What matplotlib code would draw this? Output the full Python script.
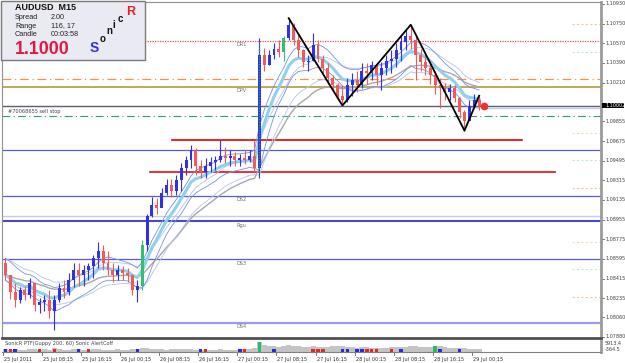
import numpy as np
import pandas as pd
import matplotlib
matplotlib.use("Agg")
import matplotlib.pyplot as plt
import matplotlib.transforms as mtransforms
from matplotlib.patches import Rectangle

# ---------------- data (H1 aggregation of the M15 chart) ----------------
open0 = 1.0856
high = [1.0860, 1.0845, 1.0837, 1.0834, 1.0835, 1.0842, 1.0835, 1.0824, 1.0826, 1.0831,
        1.0826, 1.0837, 1.0840, 1.0847, 1.0856, 1.0856, 1.0854, 1.0856, 1.0863, 1.0875,
        1.0872, 1.0867, 1.0856, 1.0854, 1.0853, 1.0851, 1.0846, 1.0840, 1.0877, 1.0901,
        1.0916, 1.0915, 1.0924, 1.0933, 1.0933, 1.0936, 1.0947, 1.0954, 1.0964, 1.0961,
        1.0950, 1.0952, 1.0953, 1.0954, 1.0968, 1.0962, 1.0959, 1.0957, 1.0956, 1.0959,
        1.0959, 1.0968, 1.1062, 1.1053, 1.1051, 1.1057, 1.1060, 1.1064, 1.1080, 1.1076,
        1.1066, 1.1052, 1.1046, 1.1066, 1.1060, 1.1046, 1.1039, 1.1028, 1.1021, 1.1019,
        1.1025, 1.1030, 1.1032, 1.1039, 1.1039, 1.1041, 1.1039, 1.1040, 1.1046, 1.1051,
        1.1057, 1.1064, 1.1069, 1.1074, 1.1064, 1.1052, 1.1049, 1.1041, 1.1032, 1.1025,
        1.1021, 1.1020, 1.1019, 1.1008, 1.0996, 1.1005, 1.1011, 1.1009]
low = [1.0840, 1.0823, 1.0815, 1.0819, 1.0822, 1.0824, 1.0812, 1.0810, 1.0812, 1.0805,
       1.0794, 1.0820, 1.0824, 1.0826, 1.0834, 1.0835, 1.0835, 1.0840, 1.0842, 1.0851,
       1.0849, 1.0845, 1.0838, 1.0840, 1.0840, 1.0838, 1.0826, 1.0820, 1.0831, 1.0867,
       1.0898, 1.0901, 1.0910, 1.0918, 1.0916, 1.0918, 1.0922, 1.0936, 1.0943, 1.0936,
       1.0934, 1.0934, 1.0939, 1.0941, 1.0948, 1.0947, 1.0945, 1.0945, 1.0945, 1.0946,
       1.0948, 1.0939, 1.0934, 1.1032, 1.1037, 1.1043, 1.1044, 1.1041, 1.1060, 1.1055,
       1.1044, 1.1035, 1.1032, 1.1041, 1.1040, 1.1030, 1.1020, 1.1014, 1.1005, 1.1000,
       1.1003, 1.1009, 1.1012, 1.1016, 1.1020, 1.1023, 1.1019, 1.1014, 1.1028, 1.1030,
       1.1035, 1.1041, 1.1051, 1.1052, 1.1023, 1.1032, 1.1028, 1.1020, 1.1011, 1.0998,
       1.1005, 1.1005, 1.1003, 1.0989, 1.0977, 1.0988, 1.0998, 1.0996]
close = [1.0845, 1.0829, 1.0822, 1.0831, 1.0826, 1.0837, 1.0817, 1.0820, 1.0822, 1.0812,
         1.0822, 1.0833, 1.0829, 1.0840, 1.0849, 1.0845, 1.0849, 1.0853, 1.0860, 1.0867,
         1.0856, 1.0849, 1.0845, 1.0849, 1.0847, 1.0845, 1.0831, 1.0835, 1.0872, 1.0899,
         1.0909, 1.0906, 1.0920, 1.0927, 1.0922, 1.0932, 1.0943, 1.0950, 1.0959, 1.0945,
         1.0939, 1.0945, 1.0948, 1.0950, 1.0954, 1.0952, 1.0954, 1.0950, 1.0952, 1.0950,
         1.0954, 1.0943, 1.1046, 1.1037, 1.1046, 1.1052, 1.1049, 1.1062, 1.1074, 1.1060,
         1.1051, 1.1040, 1.1041, 1.1055, 1.1043, 1.1034, 1.1025, 1.1019, 1.1009, 1.1005,
         1.1019, 1.1023, 1.1019, 1.1032, 1.1030, 1.1037, 1.1028, 1.1034, 1.1041, 1.1043,
         1.1051, 1.1058, 1.1064, 1.1060, 1.1046, 1.1040, 1.1034, 1.1028, 1.1019, 1.1016,
         1.1012, 1.1016, 1.1007, 1.0994, 1.0986, 1.1000, 1.1005, 1.1000]
green_candles = [28, 57]

vol = [3, 2, 3, 2, 2, 3, 3, 2, 3, 2, 4, 3, 2, 2, 3, 3, 2, 2, 3, 3,
       2, 2, 2, 3, 2, 2, 3, 3, 4, 4, 3, 3, 3, 2, 3, 3, 3, 3, 3, 2,
       2, 2, 2, 2, 3, 2, 2, 2, 2, 3, 3, 4, 10, 7, 6, 6, 5, 6, 7, 6,
       6, 5, 5, 6, 5, 5, 5, 6, 6, 6, 5, 5, 4, 5, 5, 4, 4, 4, 4, 5,
       5, 5, 5, 6, 6, 5, 5, 5, 6, 6, 5, 4, 4, 4, 4, 3, 3, 3]
sig_idx = [0, 1, 2, 7, 10, 15, 17, 27, 40, 41, 48, 49, 52, 55, 63, 64, 65, 69, 70,
           72, 73, 74, 75, 76, 79, 81, 88, 89, 93]
sig_dir = [1, -1, 1, -1, -1, 1, -1, 1, 1, -1, 1, -1, 2, 1, -1, -1, -1, 1, 1,
           1, 1, -1, -1, -1, -1, 1, 2, 1, 1]

zigzag_idx = [58, 69, 83, 94, 97]
zigzag_kind = ["H", "L", "H", "L", "H"]

date_labels = ["25 Jul 2011", "25 Jul 08:15", "25 Jul 16:15", "26 Jul 00:15",
               "26 Jul 08:15", "26 Jul 16:15", "27 Jul 00:15", "27 Jul 08:15",
               "27 Jul 16:15", "28 Jul 00:15", "28 Jul 08:15", "28 Jul 16:15",
               "29 Jul 00:15"]
price_labels = ["1.10930", "1.10750", "1.10570", "1.10390", "1.10210", "1.09855",
                "1.09675", "1.09495", "1.09315", "1.09135", "1.08955", "1.08775",
                "1.08595", "1.08415", "1.08235", "1.08060", "1.07880"]

bid = 1.1000
bid_text = "1.10002"
sell_stop = 1.0990
pivot_names = ["DR1", "DPV", "DS2", "Rgu", "DS3", "DS4"]
pivot_values = [1.1059, 1.1017, 1.0917, 1.0894, 1.0859, 1.0801]
orange_level = 1.1024
blue_level = 1.0959
lav_level = 1.0899
red_levels = [1.0968, 1.0939]
right_levels = [1.1075, 1.1049, 1.0975, 1.0950, 1.0924, 1.0875, 1.0850, 1.0825]
right_colors = ["#f5c890", "#b8ecd8", "#f0dcb0", "#b8ecd8", "#f5c890", "#f0dcb0", "#b8ecd8", "#f5c890"]

# ---------------- figure ----------------
W, H = 625, 363
fig = plt.figure(figsize=(W / 100, H / 100), dpi=100)
fig.patch.set_facecolor("white")


def fx(px):
    return px / W


def fy(py):
    return 1 - py / H


ax = fig.add_axes([fx(2), fy(338), (601 - 2) / W, (338 - 2) / H])
axv = fig.add_axes([fx(2), fy(352), (601 - 2) / W, (352 - 341) / H])

n = len(close)
idx = np.arange(n)
opens = np.array([open0] + close[:-1])
hi = np.array(high)
lo = np.array(low)
cl = np.array(close)

X0, X1 = -0.7, 121.95
ax.set_xlim(X0, X1)
ax.set_ylim(1.078705, 1.109483)

# horizontal levels
ax.axhline(pivot_values[0], color="#e05050", lw=0.9, ls=(0, (1, 1)))
ax.axhline(orange_level, color="#ff8a50", lw=0.9, ls=(0, (7, 3, 1, 3)))
ax.axhline(pivot_values[1], color="#c0a855", lw=1.4)
ax.axhline(bid, color="#5a6070", lw=1.0)
ax.plot([98, X1], [bid - 0.0002, bid - 0.0002], color="#c8c8f0", lw=1.0)
ax.axhline(sell_stop, color="#30a060", lw=0.8, ls=(0, (7, 3, 1, 3)))
ax.plot([34.1, 105.8], [red_levels[0]] * 2, color="#e00000", lw=1.2)
ax.axhline(blue_level, color="#5a5ad8", lw=0.9)
ax.plot([29.6, 112.5], [red_levels[1]] * 2, color="#e01010", lw=1.2)
ax.axhline(pivot_values[2], color="#5a5ad8", lw=0.9)
ax.axhline(lav_level, color="#c8c8f4", lw=1.0)
ax.axhline(pivot_values[3], color="#4848c8", lw=1.5)
ax.axhline(pivot_values[4], color="#5a5ad8", lw=0.9)
ax.axhline(pivot_values[5], color="#9a9af0", lw=1.6)
for lv, c in zip(right_levels, right_colors):
    ax.plot([116, X1], [lv, lv], color=c, lw=0.8, ls=(0, (2, 2)))

# pivot labels
for name, v in zip(pivot_names, pivot_values):
    ax.text(47.4, v - 0.00012, name, fontsize=3.6, color="#707070", va="top", ha="left")
ax.text(0.5, sell_stop + 0.0002, "#70068655 sell stop", fontsize=3.6, color="#404040",
        va="bottom", ha="left")

# moving averages (Sonic R dragon + trend)
s_close = pd.Series(cl)
ema_c = s_close.ewm(span=8.5, adjust=False).mean()
ema_h = pd.Series(hi).ewm(span=8.5, adjust=False).mean()
ema_l = pd.Series(lo).ewm(span=8.5, adjust=False).mean()
ema_h2 = pd.Series(hi).ewm(span=14, adjust=False).mean()
ema_l2 = pd.Series(lo).ewm(span=14, adjust=False).mean()
ema_t = s_close.ewm(span=22, adjust=False).mean()
ax.plot(idx, ema_t, color="#a8a8a8", lw=1.0, zorder=3)
ax.plot(idx, ema_h2, color="#b4c4ee", lw=0.6, zorder=3)
ax.plot(idx, ema_l2, color="#b4c4ee", lw=0.6, zorder=3)
ax.plot(idx, ema_h, color="#7890e0", lw=0.6, zorder=3)
ax.plot(idx, ema_l, color="#7890e0", lw=0.6, zorder=3)
ax.plot(idx, ema_c, color="#8ed0ee", lw=2.2, zorder=3)

# candles
for i in range(n):
    o, c = opens[i], cl[i]
    if i in green_candles:
        col = "#30c070"
    elif c >= o:
        col = "#3030e6"
    else:
        col = "#f05a5a"
    ax.plot([i, i], [lo[i], hi[i]], color=col, lw=0.8, zorder=4, solid_capstyle="butt")
    b = min(o, c)
    h = max(abs(c - o), 0.00004)
    ax.add_patch(Rectangle((i - 0.3, b), 0.6, h, facecolor=col, edgecolor="none", zorder=4))

# green dotted vertical at the breakout candle
ax.plot([52, 52], [red_levels[1], pivot_values[0]], color="#20b060", lw=0.9,
        ls=(0, (1, 1.2)), zorder=5)

# zigzag
zz_y = [hi[i] if k == "H" else lo[i] for i, k in zip(zigzag_idx, zigzag_kind)]
ax.plot(zigzag_idx, zz_y, color="black", lw=1.3, zorder=6)

# current price marker
ax.plot([98], [bid], marker="o", ms=4.5, color="#f03030", zorder=7)

# axes styling main
for sp in ["left", "top"]:
    ax.spines[sp].set_color("#909090")
    ax.spines[sp].set_linewidth(0.8)
ax.spines["right"].set_color("#9a9a9a")
ax.spines["right"].set_linewidth(2.0)
ax.spines["bottom"].set_color("#505050")
ax.spines["bottom"].set_linewidth(2.0)
ax.set_xticks([])
ax.set_yticks([])

# right price labels and ticks
tr = mtransforms.blended_transform_factory(ax.transAxes, ax.transData)
for lab in price_labels:
    v = float(lab)
    ax.plot([1.0, 1.005], [v, v], color="#606060", lw=0.6, transform=tr, clip_on=False)
    ax.text(1.0067, v, lab, transform=tr, fontsize=3.5, color="#404040",
            va="center", ha="left", clip_on=False)
ax.add_patch(Rectangle((1.0017, bid - 0.00027), 0.037, 0.00054, transform=tr,
                       facecolor="black", edgecolor="none", clip_on=False, zorder=8))
ax.text(1.0067, bid, bid_text, transform=tr, fontsize=3.5, color="white",
        va="center", ha="left", clip_on=False, zorder=9)

# ---------------- volume pane ----------------
axv.set_xlim(X0, X1)
axv.set_ylim(0, 11)
axv.bar(idx, vol, width=1.0, color="#c4c4c4", edgecolor="none")
for i, d in zip(sig_idx, sig_dir):
    col = {1: "#2828e0", -1: "#e02828", 2: "#20c060"}[d]
    hgt = vol[i] if d == 2 else 3
    axv.bar([i], [hgt], width=0.7, color=col, edgecolor="none")
axv.set_xticks([])
axv.set_yticks([])
for sp in ["left", "top"]:
    axv.spines[sp].set_visible(False)
axv.spines["bottom"].set_color("#808080")
axv.spines["bottom"].set_linewidth(0.8)
axv.spines["right"].set_color("#9a9a9a")
axv.spines["right"].set_linewidth(2.0)
axv.text(0.005, 0.75, "SonicR PTF(Guppy 200, 60) Sonic AlertCoff", transform=axv.transAxes,
         fontsize=3.6, color="#404040", va="center", ha="left")
axv.text(1.0067, 0.75, "5913.4", transform=axv.transAxes, fontsize=3.5, color="#404040",
         va="center", ha="left", clip_on=False)
axv.text(1.0067, 0.2, "-364.5", transform=axv.transAxes, fontsize=3.5, color="#404040",
         va="center", ha="left", clip_on=False)

# date ticks and labels
trv = mtransforms.blended_transform_factory(axv.transData, axv.transAxes)
for j, lab in enumerate(date_labels):
    xk = 8 * j - 0.5
    axv.plot([xk, xk], [0, -0.3], color="#606060", lw=0.6, transform=trv, clip_on=False)
    axv.text(xk + 0.2, -0.45, lab, transform=trv, fontsize=3.6, color="#303030",
             va="top", ha="left", clip_on=False)

# ---------------- info box ----------------
fig.add_artist(Rectangle((fx(0.5), fy(59.5)), fx(144), 59 / H, transform=fig.transFigure,
                         facecolor="#eaeaf2", edgecolor="#7a7a7a", lw=1.0, zorder=10))
fam = ["Liberation Sans", "DejaVu Sans"]
fig.text(fx(15), fy(7.5), "AUDUSD  M15", fontsize=6.5, fontweight="bold", family=fam,
         color="#111111", va="center", ha="left", zorder=11)
rows = [("Spread", "2.00", 17.5), ("Range", "116, 17", 26), ("Candle", "00:03:58", 34.5)]
for lab, val, yy in rows:
    fig.text(fx(15), fy(yy), lab, fontsize=5.2, family=fam, color="#222222",
             va="center", ha="left", zorder=11)
    fig.text(fx(51), fy(yy), val, fontsize=5.2, family=fam, color="#222222",
             va="center", ha="left", zorder=11)
fig.text(fx(15), fy(49), "1.1000", fontsize=12.8, fontweight="bold", family=fam,
         color="#e3173e", va="center", ha="left", zorder=11)
sonic = [("S", 90, 48.5, 10, "#3535d0"), ("o", 100, 39.5, 7, "#111111"),
         ("n", 106, 31.5, 7, "#111111"), ("i", 112.5, 25, 7, "#111111"),
         ("c", 118, 19, 7, "#111111"), ("R", 126, 12, 9, "#e52020")]
for ch, xx, yy, fs, col in sonic:
    fig.text(fx(xx), fy(yy), ch, fontsize=fs, fontweight="bold", family=fam,
             color=col, va="center", ha="left", zorder=11)

fig.savefig("out.png", dpi=100)
